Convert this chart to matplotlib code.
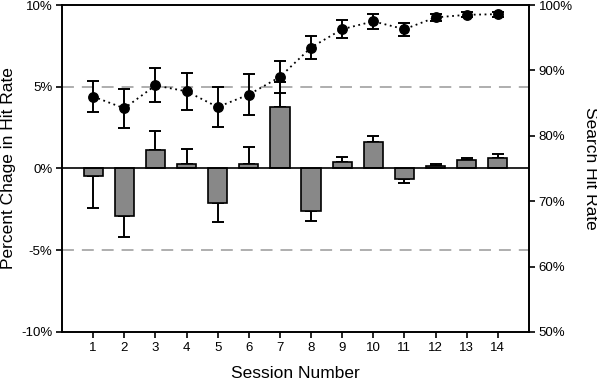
import matplotlib
matplotlib.use("Agg")
import matplotlib.pyplot as plt
import numpy as np

plt.rcParams['font.family'] = ['Liberation Sans', 'DejaVu Sans']

sessions = list(range(1, 15))
pct_change = [-0.43, -2.9, 1.12, 0.3, -2.08, 0.3, 3.77, -2.63, 0.39, 1.61, -0.63, 0.14, 0.49, 0.65]
pct_change_err = [1.97, 1.3, 1.16, 0.9, 1.22, 1.03, 1.5, 0.61, 0.34, 0.37, 0.24, 0.15, 0.14, 0.25]
hit_rate = [86.0, 84.2, 87.7, 86.8, 84.4, 86.3, 89.0, 93.5, 96.3, 97.5, 96.3, 98.1, 98.5, 98.6]
hit_rate_err = [2.4, 3.0, 2.6, 2.8, 3.0, 3.1, 2.45, 1.8, 1.4, 1.2, 1.0, 0.6, 0.4, 0.4]
left_ticks = [-10, -5, 0, 5, 10]
right_ticks = [50, 60, 70, 80, 90, 100]

fig = plt.figure(figsize=(5.97, 3.85), dpi=100)
ax = fig.add_axes([0.1039, 0.1377, 0.886 - 0.1039, 0.987 - 0.1377])

x = np.array(sessions)
vals = np.array(pct_change)
errs = np.array(pct_change_err)
lower = np.where(vals < 0, errs, 0)
upper = np.where(vals >= 0, errs, 0)

ax.axhline(5, color='#a8a8a8', lw=1.3, dashes=(6.6, 4.4), zorder=1)
ax.axhline(-5, color='#a8a8a8', lw=1.3, dashes=(6.6, 4.4), zorder=1)
ax.bar(x, vals, width=0.62, color='#888888', edgecolor='black', linewidth=1.2, zorder=3)
ax.errorbar(x, vals, yerr=[lower, upper], fmt='none', ecolor='black', elinewidth=1.4,
            capsize=4, capthick=1.4, zorder=2)
ax.axhline(0, color='black', lw=1.2, zorder=4)

ax.set_xlim(0, 15)
ax.set_ylim(-10, 10)
ax.set_xticks(sessions)
ax.set_yticks(left_ticks)
ax.set_yticklabels([f"{t}%" for t in left_ticks])
ax.set_xlabel("Session Number", fontsize=12.5, labelpad=9)
ax.set_ylabel("Percent Chage in Hit Rate", fontsize=12.5, labelpad=4)

ax2 = ax.twinx()
ax2.errorbar(x, hit_rate, yerr=hit_rate_err, fmt='o', color='black', markersize=6.8,
             ecolor='black', elinewidth=1.4, capsize=4, capthick=1.4, zorder=5)
ax2.plot(x, hit_rate, color='black', lw=1.3, ls=(0, (1, 2)), zorder=4)
ax2.set_ylim(50, 100)
ax2.set_yticks(right_ticks)
ax2.set_yticklabels([f"{t}%" for t in right_ticks])
ax2.set_ylabel("Search Hit Rate", fontsize=12.5, rotation=270, labelpad=18)

for a in (ax, ax2):
    for s in a.spines.values():
        s.set_linewidth(1.2)
    a.tick_params(direction='out', length=4, width=1.2, labelsize=9.5, pad=3)

fig.savefig("out.png", dpi=100)
